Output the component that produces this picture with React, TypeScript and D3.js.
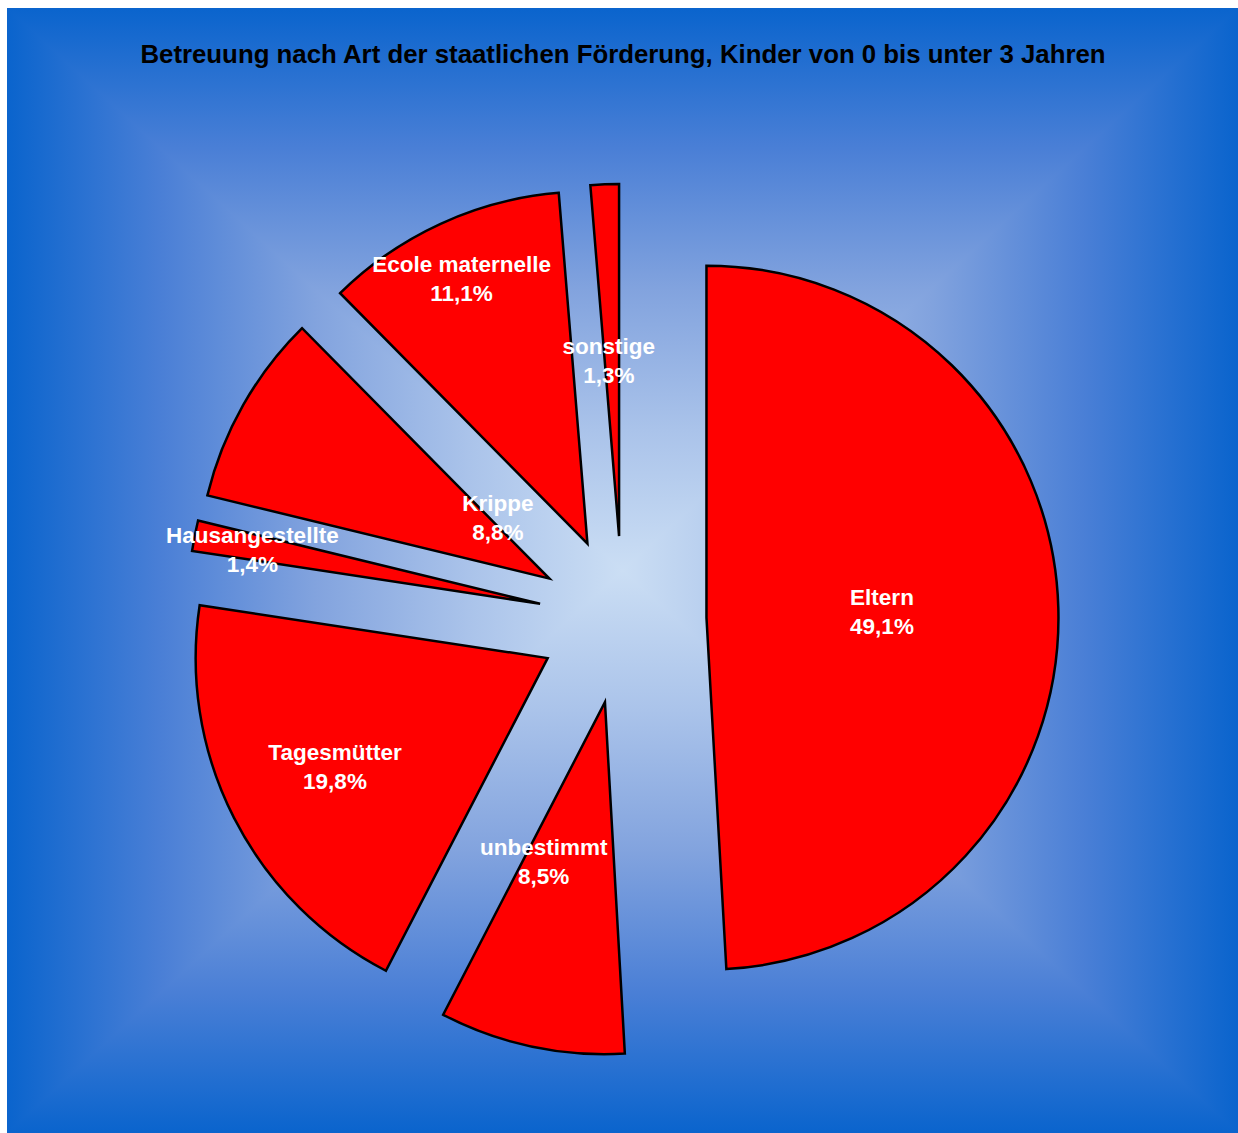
import React from "react";
import * as d3 from "d3";

// ---- data ----
const title = "Betreuung nach Art der staatlichen Förderung, Kinder von 0 bis unter 3 Jahren";
const categories = ["Eltern", "unbestimmt", "Tagesmütter", "Hausangestellte", "Krippe", "Ecole maternelle", "sonstige"];
const shares = [49.1, 8.5, 19.8, 1.4, 8.8, 11.1, 1.3];

// ---- layout (not data) ----
const W = 1238;
const H = 1133;
const bg = { x0: 7, y0: 8, x1: 1238, y1: 1133 };
const center = { x: 622.5, y: 620 };
const radius = 352;
const explode = 84;
// label placement: angle offset from slice bisector (deg) and distance as fraction of radius
const labelAngleOffset = [-0.4, 9, 0, -0.4, 20.5, -0.7, -1];
const labelRadiusFrac = [0.499, 0.484, 0.678, 0.832, 0.228, 0.835, 0.499];

// background gradient from edge (0) to centre (1)
const gradStops: [number, string][] = [
  [0, "#0a64cd"],
  [0.25, "#4a7fd6"],
  [0.5, "#82a3de"],
  [0.75, "#aac3ea"],
  [1, "#cbdef4"],
];

const de = d3.formatLocale({ decimal: ",", thousands: ".", grouping: [3], currency: ["", "€"] });
const fmt = (v: number) => de.format(".1f")(v) + "%";

function symStops() {
  const out: [number, string][] = [];
  gradStops.forEach(([t, c]) => out.push([t / 2, c]));
  gradStops
    .slice(0, -1)
    .reverse()
    .forEach(([t, c]) => out.push([1 - t / 2, c]));
  return out.map(([o, c], i) => <stop key={i} offset={o} stopColor={c} />);
}

export default function App() {
  const pie = d3.pie<number>().sort(null).value((d) => d).startAngle(0).endAngle(2 * Math.PI);
  const arcs = pie(shares);
  const arcGen = d3.arc<d3.PieArcDatum<number>>().innerRadius(0).outerRadius(radius);

  const cx = (bg.x0 + bg.x1) / 2;
  const cy = (bg.y0 + bg.y1) / 2;
  const font = "'Liberation Sans', Arial, Helvetica, sans-serif";

  return (
    <svg
      width={W}
      height={H}
      style={{ position: "absolute", left: 0, top: 0, background: "#ffffff" }}
    >
      <defs>
        <linearGradient id="gv" gradientUnits="userSpaceOnUse" x1={0} y1={bg.y0} x2={0} y2={bg.y1}>
          {symStops()}
        </linearGradient>
        <linearGradient id="gh" gradientUnits="userSpaceOnUse" x1={bg.x0} y1={0} x2={bg.x1} y2={0}>
          {symStops()}
        </linearGradient>
      </defs>
      <rect x={bg.x0} y={bg.y0} width={bg.x1 - bg.x0} height={bg.y1 - bg.y0} fill="url(#gv)" />
      <path
        d={`M${bg.x0},${bg.y0}L${cx},${cy}L${bg.x0},${bg.y1}Z M${bg.x1},${bg.y0}L${cx},${cy}L${bg.x1},${bg.y1}Z`}
        fill="url(#gh)"
      />
      <text
        x={623}
        y={63}
        textAnchor="middle"
        fontFamily={font}
        fontWeight="bold"
        fontSize={25.8}
        fill="#000"
      >
        {title}
      </text>
      <g>
        {arcs.map((a, i) => {
          const mid = (a.startAngle + a.endAngle) / 2;
          const ox = center.x + Math.sin(mid) * explode;
          const oy = center.y - Math.cos(mid) * explode;
          return (
            <path
              key={categories[i]}
              d={arcGen(a) || ""}
              transform={`translate(${ox},${oy})`}
              fill="#ff0000"
              stroke="#000"
              strokeWidth={2.5}
              strokeLinejoin="miter"
            />
          );
        })}
      </g>
      <g>
        {arcs.map((a, i) => {
          const mid = (a.startAngle + a.endAngle) / 2;
          const ox = center.x + Math.sin(mid) * explode;
          const oy = center.y - Math.cos(mid) * explode;
          const la = mid + (labelAngleOffset[i] * Math.PI) / 180;
          const lr = labelRadiusFrac[i] * radius;
          const lx = ox + Math.sin(la) * lr;
          const ly = oy - Math.cos(la) * lr;
          return (
            <text
              key={categories[i]}
              textAnchor="middle"
              fontFamily={font}
              fontWeight="bold"
              fontSize={22.5}
              fill="#ffffff"
            >
              <tspan x={lx} y={ly - 6.5}>{categories[i]}</tspan>
              <tspan x={lx} y={ly + 22.5}>{fmt(shares[i])}</tspan>
            </text>
          );
        })}
      </g>
    </svg>
  );
}
